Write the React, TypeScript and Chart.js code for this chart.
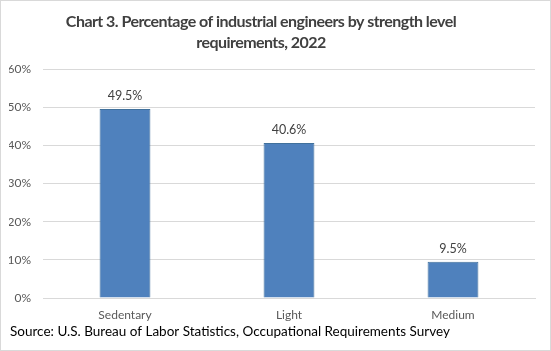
import React, { useEffect, useRef } from "react";
import { Chart, registerables } from "chart.js";

Chart.register(...registerables);

const categories = ["Sedentary", "Light", "Medium"];
const values = [49.5, 40.6, 9.5];
const yTicks = [0, 10, 20, 30, 40, 50, 60];
const titleLines = ["Chart 3. Percentage of industrial engineers by strength level", "requirements, 2022"];
const sourceText = "Source: U.S. Bureau of Labor Statistics, Occupational Requirements Survey";

const FONT = "Lato, 'Open Sans', sans-serif";

const dataLabelPlugin = {
  id: "dataLabels",
  afterDatasetsDraw(chart: any) {
    const ctx = chart.ctx;
    const meta = chart.getDatasetMeta(0);
    ctx.save();
    ctx.font = `12.5px ${FONT}`;
    ctx.fillStyle = "#404040";
    ctx.textAlign = "center";
    ctx.textBaseline = "middle";
    meta.data.forEach((bar: any, i: number) => {
      ctx.fillText(values[i].toFixed(1) + "%", bar.x, bar.y - 13);
    });
    ctx.restore();
  },
};

const textPlugin = {
  id: "titleAndSource",
  afterDraw(chart: any) {
    const ctx = chart.ctx;
    ctx.save();
    ctx.textBaseline = "alphabetic";
    ctx.textAlign = "center";
    ctx.fillStyle = "#404040";
    ctx.font = `bold 16px ${FONT}`;
    (ctx as any).letterSpacing = "-0.55px";
    ctx.fillText(titleLines[0], 261, 27);
    ctx.fillText(titleLines[1], 261, 48);
    (ctx as any).letterSpacing = "0px";
    ctx.textAlign = "left";
    ctx.fillStyle = "#000000";
    ctx.font = `13.5px ${FONT}`;
    ctx.fillText(sourceText, 10, 336);
    ctx.strokeStyle = "#d9d9d9";
    ctx.lineWidth = 1;
    ctx.strokeRect(0.5, 0.5, chart.width - 1, chart.height - 1);
    ctx.restore();
  },
};

export default function App() {
  const ref = useRef<HTMLCanvasElement>(null);
  useEffect(() => {
    document.body.style.margin = "0";
    const chart = new Chart(ref.current!, {
      type: "bar",
      data: {
        labels: categories,
        datasets: [
          {
            data: values,
            backgroundColor: "#4f81bd",
            borderColor: "#41719c",
            borderWidth: 1,
            barPercentage: 0.31,
            categoryPercentage: 1,
          },
        ],
      },
      options: {
        animation: false,
        responsive: false,
        devicePixelRatio: 1,
        layout: { padding: { left: 9, right: 16, top: 69, bottom: 29 } },
        plugins: {
          legend: { display: false },
          tooltip: { enabled: false },
          title: { display: false },
        },
        scales: {
          x: {
            afterFit(scale: any) {
              scale.height = 24;
            },
            grid: { display: false, drawTicks: false },
            border: { display: true, color: "#d9d9d9", width: 1 },
            ticks: { color: "#595959", font: { family: FONT, size: 12 }, padding: 10 },
          },
          y: {
            min: 0,
            max: 60,
            afterFit(scale: any) {
              scale.width = 34;
            },
            afterBuildTicks(scale: any) {
              scale.ticks = yTicks.map((v) => ({ value: v }));
            },
            grid: { color: "#d9d9d9", lineWidth: 1, drawTicks: false },
            border: { display: false },
            ticks: {
              color: "#595959",
              font: { family: FONT, size: 12 },
              padding: 12,
              callback: (v: any) => v + "%",
            },
          },
        },
      },
      plugins: [dataLabelPlugin, textPlugin],
    });
    return () => chart.destroy();
  }, []);
  return <canvas ref={ref} width={551} height={351} style={{ display: "block" }} />;
}
